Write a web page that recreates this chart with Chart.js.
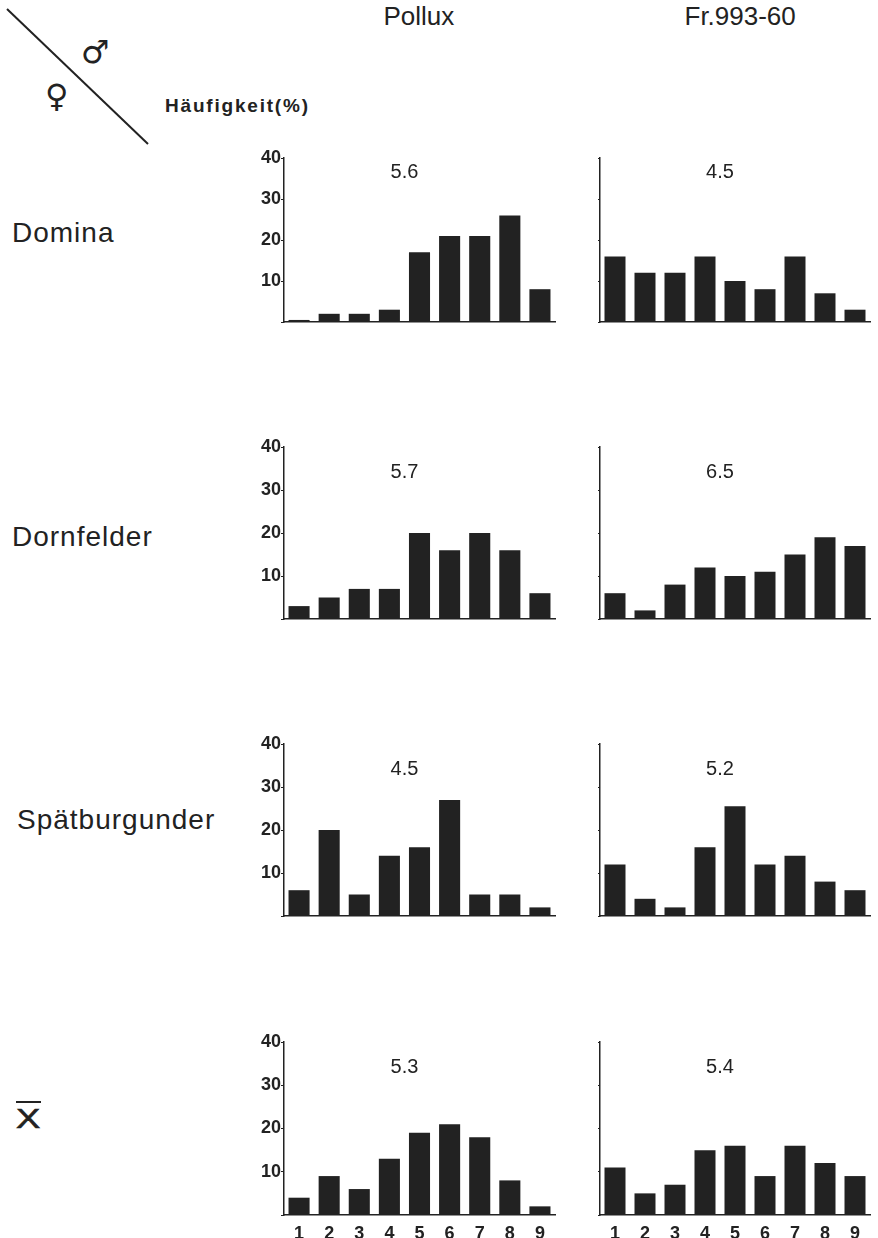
<!DOCTYPE html>
<html>
<head>
<meta charset="utf-8">
<script src="https://cdn.jsdelivr.net/npm/chart.js@4/dist/chart.umd.min.js"></script>
<style>
  body { margin: 0; background: #fff; width: 878px; height: 1238px; position: relative; overflow: hidden;
         font-family: "Liberation Sans", Arial, sans-serif; color: #222; }
  .txt { position: absolute; white-space: nowrap; line-height: 1; }
  canvas { position: absolute; }
</style>
</head>
<body>

<svg style="position:absolute;left:0;top:0" width="160" height="160">
  <line x1="7" y1="9" x2="148" y2="144" stroke="#222" stroke-width="2"/>
</svg>
<div class="txt" style="left:81px;top:36px;font-size:32px;font-family:'DejaVu Sans'">♂</div>
<div class="txt" style="left:45px;top:80px;font-size:32px;font-family:'DejaVu Sans'">♀</div>
<div class="txt" style="left:165px;top:96px;font-size:19px;font-weight:bold;letter-spacing:1.8px">Häufigkeit(%)</div>

<div class="txt" id="colL" style="top:3px;font-size:26px"></div>
<div class="txt" id="colR" style="top:3px;font-size:26px"></div>

<script>
// ---- data ----
const categories = ['1', '2', '3', '4', '5', '6', '7', '8', '9'];
const yTicks = [10, 20, 30, 40];
const colTitles = ['Pollux', 'Fr.993-60'];
const rowLabels = ['Domina', 'Dornfelder', 'Spätburgunder', 'X'];

const polluxDomina = [0.5, 2, 2, 3, 17, 21, 21, 26, 8];
const polluxDornfelder = [3, 5, 7, 7, 20, 16, 20, 16, 6];
const polluxSpaet = [6, 20, 5, 14, 16, 27, 5, 5, 2];
const polluxMean = [4, 9, 6, 13, 19, 21, 18, 8, 2];

const frDomina = [16, 12, 12, 16, 10, 8, 16, 7, 3];
const frDornfelder = [6, 2, 8, 12, 10, 11, 15, 19, 17];
const frSpaet = [12, 4, 2, 16, 25.5, 12, 14, 8, 6];
const frMean = [11, 5, 7, 15, 16, 9, 16, 12, 9];

const meansPollux = ['5.6', '5.7', '4.5', '5.3'];
const meansFr = ['4.5', '6.5', '5.2', '5.4'];

// ---- layout ----
const rowTop = [158, 447, 744, 1042];      // pixel of the 40 mark
const rowBase = [322, 619, 916, 1215];     // pixel of the baseline
const rowLabelTop = [219, 523, 806, 1105];
const meanLevel = [36.5, 34, 34, 34];       // height (in % units) of the mean label
const ink = '#222';
const tickFont = { family: '"Liberation Sans", Arial, sans-serif', size: 18, weight: 'bold' };

// column headers, centred on the plot areas
function centreText(id, text, cx) {
    const el = document.getElementById(id);
    el.textContent = text;
    el.style.left = (cx - el.offsetWidth / 2) + 'px';
}
centreText('colL', colTitles[0], 419);
centreText('colR', colTitles[1], 740);

rowLabels.forEach((lab, i) => {
    const d = document.createElement('div');
    d.className = 'txt';
    d.textContent = lab;
    d.style.fontSize = '28px';
    d.style.letterSpacing = '1px';
    d.style.left = (i === 2 ? 17 : i === 3 ? 16 : 12) + 'px';
    d.style.top = rowLabelTop[i] + 'px';
    if (i === 3) {
        d.style.transform = 'scaleX(1.3)';
        d.style.transformOrigin = 'left top';
        d.style.webkitTextStroke = '0.6px ' + ink;
        // the bar over the X (mean)
        const bar = document.createElement('div');
        bar.style.cssText = 'position:absolute;left:16px;top:1101px;width:25px;height:2px;background:' + ink;
        document.body.appendChild(bar);
    }
    document.body.appendChild(d);
});

const meanLabel = {
    id: 'meanLabel',
    afterDraw(chart, args, opts) {
        const {ctx} = chart;
        const x = chart.scales.x;
        ctx.save();
        ctx.font = '20px "Liberation Sans", Arial, sans-serif';
        ctx.fillStyle = ink;
        ctx.textAlign = 'center';
        ctx.textBaseline = 'middle';
        const cx = (x.getPixelForValue(3) + x.getPixelForValue(4)) / 2;
        ctx.fillText(opts.text, cx, chart.scales.y.getPixelForValue(opts.level));
        ctx.restore();
    }
};

function makeChart(values, mean, row, left) {
    const bottomRow = row === 3;
    const padTop = 12;
    const xH = bottomRow ? 23 : 3;
    const cvLeft = left ? 226 : 560;
    const cvWidth = left ? 334 : 316;
    const yW = left ? 58 : 40;
    const padRight = left ? 5 : 6;

    const canvas = document.createElement('canvas');
    canvas.width = cvWidth;
    canvas.height = (rowBase[row] - rowTop[row]) + padTop + xH;
    canvas.style.left = cvLeft + 'px';
    canvas.style.top = (rowTop[row] - padTop) + 'px';
    document.body.appendChild(canvas);

    new Chart(canvas, {
        type: 'bar',
        data: {
            labels: categories,
            datasets: [{
                data: values,
                backgroundColor: ink,
                borderWidth: 0,
                barPercentage: 0.7,
                categoryPercentage: 1
            }]
        },
        plugins: [meanLabel],
        options: {
            responsive: false,
            animation: false,
            layout: { padding: { top: padTop, right: padRight, left: 0, bottom: 0 } },
            plugins: {
                legend: { display: false },
                tooltip: { enabled: false },
                meanLabel: { text: mean, level: meanLevel[row] }
            },
            scales: {
                x: {
                    grid: { display: false },
                    border: { display: true, color: ink, width: 1.5 },
                    ticks: {
                        display: bottomRow,
                        color: ink,
                        padding: 0,
                        maxRotation: 0,
                        font: tickFont
                    },
                    afterFit: s => { s.height = xH; }
                },
                y: {
                    min: 0,
                    max: 40,
                    afterBuildTicks: s => { s.ticks = [0].concat(yTicks).map(v => ({ value: v })); },
                    grid: { display: true, drawOnChartArea: false, drawTicks: true, tickLength: left ? 3 : 2, color: ink, lineWidth: 1 },
                    border: { display: true, color: ink, width: 1.5 },
                    ticks: {
                        display: left,
                        color: ink,
                        padding: 0,
                        callback: v => (v === 0 ? '' : v),
                        font: tickFont
                    },
                    afterFit: s => { s.width = yW; s.paddingTop = 0; s.paddingBottom = 0; }
                }
            }
        }
    });
}

makeChart(polluxDomina, meansPollux[0], 0, true);
makeChart(polluxDornfelder, meansPollux[1], 1, true);
makeChart(polluxSpaet, meansPollux[2], 2, true);
makeChart(polluxMean, meansPollux[3], 3, true);
makeChart(frDomina, meansFr[0], 0, false);
makeChart(frDornfelder, meansFr[1], 1, false);
makeChart(frSpaet, meansFr[2], 2, false);
makeChart(frMean, meansFr[3], 3, false);
</script>
</body>
</html>
